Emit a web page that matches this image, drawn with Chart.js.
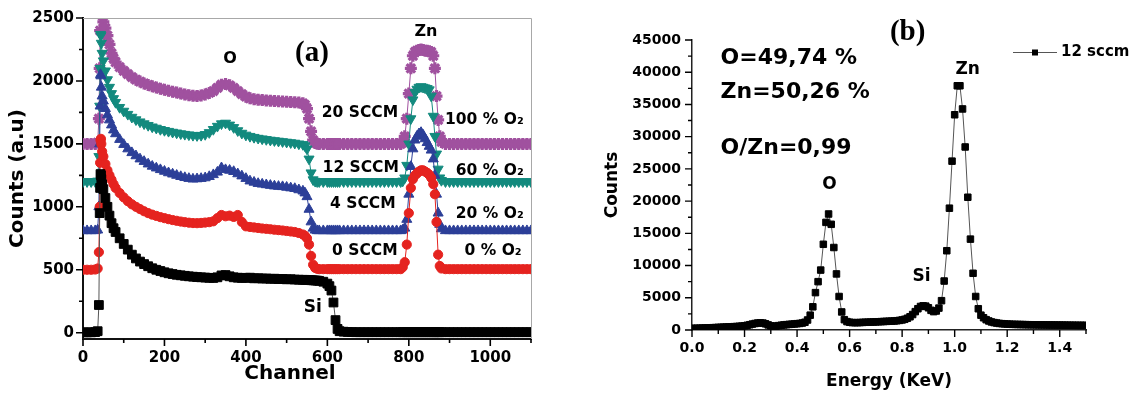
<!DOCTYPE html>
<html><head><meta charset="utf-8">
<script src="https://cdn.jsdelivr.net/npm/chart.js@4/dist/chart.umd.min.js"></script>
<style>
html,body{margin:0;padding:0;background:#fff;width:1140px;height:396px;overflow:hidden}
#ca{position:absolute;left:0;top:0}
#cb{position:absolute;left:570px;top:0}
</style></head><body>
<canvas id="ca" width="560" height="396"></canvas>
<canvas id="cb" width="570" height="396"></canvas>
<script>
// ---------- Panel (a): RBS spectra ----------
const channel = [0,10,20,30,36,39,41,42,43,44,45,47,50,55,60,65,70,75,
80,90,100,110,120,130,140,150,160,170,180,190,200,210,220,230,240,250,260,270,280,290,300,310,320,330,340,350,360,370,380,390,400,410,420,430,440,450,460,470,480,490,500,510,520,530,540,
545,550,555,560,565,570,575,580,
590,600,605,610,615,620,625,630,
640,650,660,670,680,690,700,710,720,730,740,750,760,770,780,
785,790,795,800,805,810,815,820,825,830,835,840,845,850,855,860,864,868,872,876,880,
890,900,910,920,930,940,950,960,970,980,990,1000,1010,1020,1030,1040,1050,1060,1070,1080,1090,1100];

const siSubstrate = [3,3,3,5,12,220,950,1150,1260,1250,1220,1180,1140,1070,1000,930,870,830,
800,750,705,660,620,590,565,545,528,512,500,490,480,472,466,460,456,452,448,445,442,440,438,436,435,440,455,458,448,440,437,435,436,437,432,433,430,431,428,429,426,427,424,425,422,421,420,
420,419,418,417,416,415,414,412,
405,390,370,335,240,100,30,12,
8,6,5,4,4,4,4,4,4,4,4,4,4,4,4,
4,4,4,4,4,4,4,4,4,4,4,4,4,4,4,4,4,4,4,4,4,
4,4,4,4,4,4,4,4,4,4,4,4,4,4,4,4,4,4,4,4,4,4];

const sccm0 = [500,500,500,502,510,640,1000,1350,1530,1540,1500,1440,1400,1340,1290,1250,1215,1180,
1150,1110,1075,1045,1020,1000,982,965,950,938,928,918,910,902,895,889,883,878,874,871,870,872,875,878,885,910,935,925,930,920,935,880,845,840,836,832,828,825,822,818,815,812,808,804,800,792,780,
770,750,700,610,540,515,508,505,
505,505,505,505,505,505,505,505,
505,505,505,505,505,505,505,505,505,505,505,505,505,505,505,
520,560,700,950,1150,1220,1250,1265,1280,1290,1290,1280,1270,1255,1230,1180,1100,880,620,530,510,
505,505,505,505,505,505,505,505,505,505,505,505,505,505,505,505,505,505,505,505,505,505];

const sccm4 = [810,810,810,810,815,1000,1500,1800,2050,2040,1950,1880,1840,1780,1730,1690,1650,1610,
1580,1535,1495,1460,1430,1405,1380,1360,1340,1322,1308,1295,1282,1270,1260,1250,1240,1232,1225,1220,1222,1225,1230,1240,1255,1275,1310,1295,1290,1280,1262,1245,1225,1205,1195,1185,1180,1175,1170,1165,1162,1160,1155,1150,1145,1135,1125,
1110,1080,980,880,830,815,810,810,
810,810,810,810,810,810,810,810,
810,810,810,810,810,810,810,810,810,810,810,810,810,810,810,
815,830,900,1100,1320,1460,1530,1560,1580,1590,1570,1540,1510,1480,1450,1380,1250,1100,950,860,825,
810,810,810,810,810,810,810,810,810,810,810,810,810,810,810,810,810,810,810,810,810,810];

const sccm12 = [1200,1200,1200,1200,1205,1400,1800,2100,2370,2360,2300,2220,2160,2080,2010,1950,1900,1860,
1830,1790,1760,1735,1712,1692,1675,1660,1647,1635,1625,1615,1607,1600,1593,1587,1581,1576,1572,1568,1566,1568,1575,1590,1615,1640,1660,1665,1650,1630,1605,1585,1570,1560,1552,1545,1540,1535,1530,1526,1522,1518,1514,1510,1506,1500,1495,
1485,1460,1380,1270,1215,1203,1200,1200,
1200,1200,1200,1200,1200,1200,1200,1200,
1200,1200,1200,1200,1200,1200,1200,1200,1200,1200,1200,1200,1200,1200,1200,
1205,1230,1330,1500,1700,1850,1910,1935,1950,1955,1950,1945,1940,1930,1880,1720,1560,1420,1300,1230,1210,
1200,1200,1200,1200,1200,1200,1200,1200,1200,1200,1200,1200,1200,1200,1200,1200,1200,1200,1200,1200,1200,1200];

const sccm20 = [1500,1500,1500,1500,1510,1700,2100,2400,2550,2580,2560,2520,2470,2420,2360,2290,2220,2180,
2150,2110,2080,2055,2030,2010,1995,1980,1968,1957,1947,1938,1930,1922,1915,1908,1900,1893,1887,1882,1880,1885,1893,1905,1920,1945,1970,1975,1965,1945,1920,1895,1875,1862,1855,1850,1848,1845,1843,1840,1838,1836,1834,1832,1830,1828,1822,
1810,1780,1700,1600,1530,1508,1502,1500,
1500,1500,1500,1500,1500,1500,1500,1500,
1500,1500,1500,1500,1500,1500,1500,1500,1500,1500,1500,1500,1500,1500,1500,
1510,1560,1700,1900,2100,2200,2230,2240,2245,2250,2245,2240,2240,2235,2230,2200,2100,1880,1690,1560,1515,
1500,1500,1500,1500,1500,1500,1500,1500,1500,1500,1500,1500,1500,1500,1500,1500,1500,1500,1500,1500,1500,1500];

const xTicksA = [0,200,400,600,800,1000];
const xMinorA = [100,300,500,700,900,1100];
const yTicksA = [0,500,1000,1500,2000,2500];
const yMinorA = [250,750,1250,1750,2250];

// ---------- Panel (b): EDX spectrum ----------
const energyKeV = [0.00,0.01,0.02,0.03,0.04,0.05,0.06,0.07,0.08,0.09,
0.10,0.11,0.12,0.13,0.14,0.15,0.16,0.17,0.18,0.19,
0.20,0.21,0.22,0.23,0.24,0.25,0.26,0.27,0.28,0.29,
0.30,0.31,0.32,0.33,0.34,0.35,0.36,0.37,0.38,0.39,
0.40,0.41,0.42,0.43,0.44,0.45,0.46,0.47,0.48,0.49,
0.50,0.51,0.52,0.53,0.54,0.55,0.56,0.57,0.58,0.59,
0.60,0.61,0.62,0.63,0.64,0.65,0.66,0.67,0.68,0.69,
0.70,0.71,0.72,0.73,0.74,0.75,0.76,0.77,0.78,0.79,
0.80,0.81,0.82,0.83,0.84,0.85,0.86,0.87,0.88,0.89,
0.90,0.91,0.92,0.93,0.94,0.95,0.96,0.97,0.98,0.99,
1.00,1.01,1.02,1.03,1.04,1.05,1.06,1.07,1.08,1.09,
1.10,1.11,1.12,1.13,1.14,1.15,1.16,1.17,1.18,1.19,
1.20,1.21,1.22,1.23,1.24,1.25,1.26,1.27,1.28,1.29,
1.30,1.31,1.32,1.33,1.34,1.35,1.36,1.37,1.38,1.39,
1.40,1.41,1.42,1.43,1.44,1.45,1.46,1.47,1.48,1.49,
1.50];

const counts12sccm = [250,260,270,285,300,315,330,345,360,380,
400,420,440,460,480,500,520,545,570,610,
660,730,820,920,1010,1080,1110,1080,960,790,
640,580,610,680,740,790,830,870,900,940,
980,1020,1080,1200,1550,2300,3600,5800,7500,9300,
13300,16700,18000,16400,12800,8700,5200,2800,1600,1300,
1200,1150,1140,1140,1160,1180,1200,1210,1230,1240,
1260,1280,1300,1320,1340,1360,1380,1400,1440,1490,
1560,1660,1820,2050,2400,2850,3300,3650,3750,3700,
3450,3050,2850,2950,3400,4550,7600,12300,18900,26200,
33400,37900,37900,34300,28400,20600,14100,8800,5200,3300,
2300,1900,1600,1400,1250,1150,1080,1020,980,950,
920,900,880,870,860,850,840,830,820,815,
810,805,800,795,790,785,780,775,770,765,
760,755,750,745,740,735,730,725,720,715,
710];

const xTicksB = [0,0.2,0.4,0.6,0.8,1.0,1.2,1.4];
const xMinorB = [0.1,0.3,0.5,0.7,0.9,1.1,1.3,1.5];
const yTicksB = [0,5000,10000,15000,20000,25000,30000,35000,40000,45000];
const yMinorB = [2500,7500,12500,17500,22500,27500,32500,37500,42500];

// ---------- helpers ----------
const FAM = 'DejaVu Sans';
function series(label, xs, ys, color, lineColor, style, radius, rotation, bw) {
  return {
    label, data: xs.map((v, i) => ({x: v, y: ys[i]})),
    borderColor: lineColor, borderWidth: 1, backgroundColor: color,
    pointStyle: style, pointRadius: radius, pointHoverRadius: radius,
    pointRotation: rotation || 0, pointBackgroundColor: color,
    pointBorderColor: color, pointBorderWidth: bw || 1, tension: 0, fill: false
  };
}
function drawTicks(ctx, a, xs, ys, xMaj, xMin, yMaj, yMin, majLen, minLen, w) {
  ctx.strokeStyle = '#000'; ctx.lineWidth = w;
  ctx.beginPath();
  xMaj.forEach(v => { const p = xs.getPixelForValue(v); ctx.moveTo(p, a.bottom); ctx.lineTo(p, a.bottom + majLen); });
  xMin.forEach(v => { const p = xs.getPixelForValue(v); ctx.moveTo(p, a.bottom); ctx.lineTo(p, a.bottom + minLen); });
  yMaj.forEach(v => { const p = ys.getPixelForValue(v); ctx.moveTo(a.left, p); ctx.lineTo(a.left - majLen, p); });
  yMin.forEach(v => { const p = ys.getPixelForValue(v); ctx.moveTo(a.left, p); ctx.lineTo(a.left - minLen, p); });
  ctx.stroke();
}
function drawLabels(ctx, xs, ys, list) {
  ctx.fillStyle = '#000';
  list.forEach(t => {
    ctx.font = 'bold ' + t.size + 'px ' + (t.serif ? '"Liberation Serif", "DejaVu Serif", serif' : '"DejaVu Sans", sans-serif');
    ctx.textAlign = t.align || 'center';
    ctx.textBaseline = 'middle';
    ctx.fillText(t.text, xs.getPixelForValue(t.x), ys.getPixelForValue(t.y));
  });
}

// text annotations placed in data coordinates
const labelsA = [
  {text: 'O', x: 361, y: 2179, size: 16},
  {text: '(a)', x: 562, y: 2218, size: 29, serif: true},
  {text: 'Zn', x: 842, y: 2390, size: 16},
  {text: '20 SCCM', x: 680, y: 1748, size: 15.5},
  {text: '12 SCCM', x: 682, y: 1309, size: 15.5},
  {text: '4 SCCM', x: 687, y: 1019, size: 15.5},
  {text: '0 SCCM', x: 692, y: 650, size: 15.5},
  {text: '100 % O\u2082', x: 1082, y: 1693, size: 15.5, align: 'right'},
  {text: '60 % O\u2082', x: 1082, y: 1285, size: 15.5, align: 'right'},
  {text: '20 % O\u2082', x: 1082, y: 940, size: 15.5, align: 'right'},
  {text: '0 % O\u2082', x: 1077, y: 650, size: 15.5, align: 'right'},
  {text: 'Si', x: 564, y: 196, size: 17},
  {text: 'Channel', x: 508, y: -329, size: 20}
];
const labelsB = [
  {text: '(b)', x: 0.821, y: 46086, size: 29, serif: true},
  {text: 'O=49,74 %', x: 0.1086, y: 42206, size: 22, align: 'left'},
  {text: 'Zn=50,26 %', x: 0.1086, y: 36930, size: 22, align: 'left'},
  {text: 'O/Zn=0,99', x: 0.1086, y: 28241, size: 22, align: 'left'},
  {text: 'O', x: 0.5238, y: 22500, size: 17},
  {text: 'Zn', x: 1.0495, y: 40344, size: 17},
  {text: 'Si', x: 0.874, y: 8224, size: 17}
];

// ---------- Chart (a) ----------
new Chart(document.getElementById('ca'), {
  type: 'line',
  data: {datasets: [
    series('Si', channel, siSubstrate, '#000000', '#555555', 'rect', 6.2),
    series('0 SCCM', channel, sccm0, '#e5231f', '#e5231f', 'circle', 4.6),
    series('4 SCCM', channel, sccm4, '#2c3f98', '#2c3f98', 'triangle', 5.8),
    series('12 SCCM', channel, sccm12, '#138a7e', '#138a7e', 'triangle', 5.8, 180),
    series('20 SCCM', channel, sccm20, '#a0519f', '#a0519f', 'star', 6, 0, 3.2)
  ]},
  options: {
    responsive: false, animation: false, devicePixelRatio: 1,
    layout: {padding: {left: 0, top: 14, right: 29, bottom: 0}},
    plugins: {legend: {display: false}, tooltip: {enabled: false}},
    scales: {
      x: {type: 'linear', min: 0, max: 1100, z: 1,
        afterBuildTicks: s => { s.ticks = xTicksA.map(v => ({value: v})); },
        afterFit: s => { s.height = 57; },
        grid: {display: false, drawTicks: false},
        border: {display: true, color: '#111', width: 2},
        ticks: {padding: 10, color: '#000', maxRotation: 0, autoSkip: false, font: {family: FAM, weight: 'bold', size: 15},
          callback: v => String(v)}},
      y: {type: 'linear', min: -50, max: 2500, z: 1,
        afterBuildTicks: s => { s.ticks = yTicksA.map(v => ({value: v})); },
        afterFit: s => { s.width = 83; },
        grid: {display: false, drawTicks: false},
        border: {display: true, color: '#111', width: 2},
        title: {display: true, text: 'Counts (a.u)', color: '#000', padding: {top: 6, bottom: 0}, font: {family: FAM, weight: 'bold', size: 20}},
        ticks: {padding: 9, color: '#000', font: {family: FAM, weight: 'bold', size: 15}, callback: v => String(v)}}
    }
  },
  plugins: [{
    id: 'extrasA',
    afterDraw(chart) {
      const {ctx, chartArea: a, scales: {x, y}} = chart;
      ctx.save();
      ctx.strokeStyle = '#a8a8a8'; ctx.lineWidth = 1;
      ctx.beginPath();
      ctx.moveTo(a.left, a.top + 0.5); ctx.lineTo(a.right + 0.5, a.top + 0.5); ctx.lineTo(a.right + 0.5, a.bottom);
      ctx.stroke();
      drawTicks(ctx, a, x, y, xTicksA, xMinorA, yTicksA, yMinorA, 7, 4, 1.6);
      drawLabels(ctx, x, y, labelsA);
      ctx.restore();
    }
  }]
});

// ---------- Chart (b) ----------
new Chart(document.getElementById('cb'), {
  type: 'line',
  data: {datasets: [
    series('12 sccm', energyKeV, counts12sccm, '#000000', '#555555', 'rect', 4.6)
  ]},
  options: {
    responsive: false, animation: false, devicePixelRatio: 1,
    layout: {padding: {left: 0, top: 40, right: 54, bottom: 0}},
    plugins: {legend: {display: false}, tooltip: {enabled: false}},
    scales: {
      x: {type: 'linear', min: 0, max: 1.5, z: 1,
        afterBuildTicks: s => { s.ticks = xTicksB.map(v => ({value: v})); },
        afterFit: s => { s.height = 66; },
        grid: {display: false, drawTicks: false},
        border: {display: true, color: '#222', width: 1.5},
        title: {display: true, text: 'Energy (KeV)', color: '#000', padding: {top: 0, bottom: 4}, font: {family: FAM, weight: 'bold', size: 17}},
        ticks: {padding: 10, color: '#000', maxRotation: 0, autoSkip: false, font: {family: FAM, weight: 'bold', size: 14},
          callback: v => Number(v).toFixed(1)}},
      y: {type: 'linear', min: 0, max: 45000, z: 1,
        afterBuildTicks: s => { s.ticks = yTicksB.map(v => ({value: v})); },
        afterFit: s => { s.width = 122; },
        grid: {display: false, drawTicks: false},
        border: {display: true, color: '#222', width: 1.5},
        title: {display: true, text: 'Counts', color: '#000', padding: {top: 32, bottom: 0}, font: {family: FAM, weight: 'bold', size: 17}},
        ticks: {padding: 11, color: '#000', font: {family: FAM, weight: 'bold', size: 14}, callback: v => String(v)}}
    }
  },
  plugins: [{
    id: 'extrasB',
    afterDraw(chart) {
      const {ctx, chartArea: a, scales: {x, y}} = chart;
      ctx.save();
      drawTicks(ctx, a, x, y, xTicksB, xMinorB, yTicksB, yMinorB, 7, 4, 1.4);
      drawLabels(ctx, x, y, labelsB);
      // legend (line + square + label) at top right
      const ds = chart.data.datasets[0];
      const lx0 = 443, lx1 = 487, ly = 52;
      ctx.strokeStyle = ds.borderColor; ctx.lineWidth = 1;
      ctx.beginPath(); ctx.moveTo(lx0, ly + 0.5); ctx.lineTo(lx1, ly + 0.5); ctx.stroke();
      ctx.fillStyle = ds.pointBackgroundColor;
      ctx.fillRect((lx0 + lx1) / 2 - 3, ly - 2.5, 6, 6);
      ctx.font = 'bold 15px "DejaVu Sans", sans-serif';
      ctx.textAlign = 'left'; ctx.textBaseline = 'middle';
      ctx.fillText(ds.label, 491, ly);
      ctx.restore();
    }
  }]
});
</script>
</body></html>
